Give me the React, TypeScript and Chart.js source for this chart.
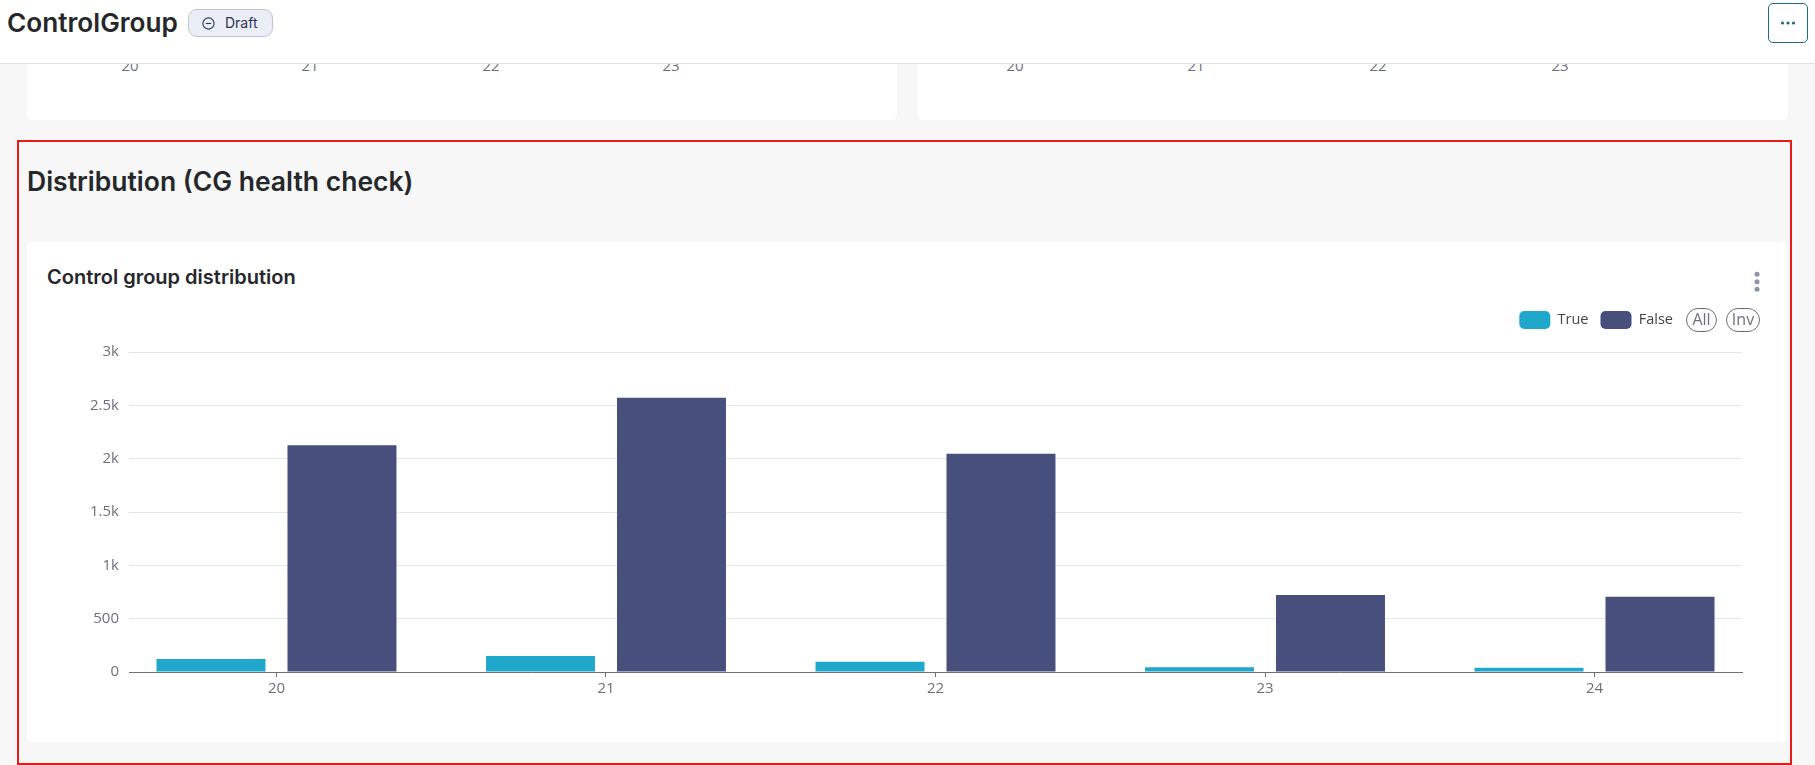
import React, { useEffect, useRef } from "react";
import { Chart, registerables } from "chart.js";

Chart.register(...registerables);

const categories = [20, 21, 22, 23, 24];
const trueValues = [122, 150, 95, 45, 40];
const falseValues = [2125, 2570, 2045, 722, 706];
const upperLeftTicks = ["20", "21", "22", "23"];
const upperRightTicks = ["20", "21", "22", "23"];
const upperLeftX = [130, 310, 491, 671];
const upperRightX = [1015, 1196, 1378, 1560];

const AXIS = "#6E7079";
const GRID = "#E0E6F4";
const BODY = '"Open Sans", sans-serif';
const HEAD = 'Inter, sans-serif';

const legendPlace = {
  id: "legendPlace",
  afterLayout(chart: any) {
    if (chart.legend) {
      chart.legend.right = 1673 - 27 + 12;
      chart.legend.top = 311 - 242 - 12;
    }
  },
};

function abs(x: number, y: number, w: number, h: number): React.CSSProperties {
  return { position: "absolute", left: x, top: y, width: w, height: h, boxSizing: "border-box" };
}

export default function App() {
  const ref = useRef<HTMLCanvasElement | null>(null);
  useEffect(() => {
    document.body.style.margin = "0";
    const chart = new Chart(ref.current as HTMLCanvasElement, {
      type: "bar",
      data: {
        datasets: [
          {
            label: "True",
            data: categories.map((c, i) => ({ x: c, y: trueValues[i] })),
            backgroundColor: "#1FA8CB",
            borderWidth: 0,
          },
          {
            label: "False",
            data: categories.map((c, i) => ({ x: c, y: falseValues[i] })),
            backgroundColor: "#474F7D",
            borderWidth: 0,
          },
        ],
      },
      options: {
        responsive: false,
        animation: false,
        devicePixelRatio: 1,
        categoryPercentage: 0.795,
        barPercentage: 0.832,
        layout: { padding: { left: 60, right: 46, top: 70, bottom: 30 } },
        plugins: {
          tooltip: { enabled: false },
          title: { display: false },
          legend: {
            display: true,
            position: "top",
            align: "end",
            labels: {
              boxWidth: 31,
              boxHeight: 18,
              padding: 12,
              useBorderRadius: true,
              borderRadius: 5,
              color: "#444444",
              font: { family: BODY, size: 14.5 },
            },
          },
        },
        scales: {
          x: {
            type: "linear",
            offset: false,
            min: 19.5524,
            max: 24.4476,
            grid: { display: true, drawOnChartArea: false, drawTicks: true, tickLength: 5, tickColor: AXIS, offset: false },
            border: { display: true, color: AXIS, width: 1 },
            ticks: {
              stepSize: 1,
              includeBounds: false,
              padding: 3,
              color: AXIS,
              font: { family: BODY, size: 15 },
              maxRotation: 0,
              callback: (v: any) => String(v),
            },
            afterFit: (s: any) => { s.height = 40; },
          },
          y: {
            type: "linear",
            min: 0,
            max: 3000,
            grid: { color: GRID, lineWidth: 1, drawTicks: false },
            border: { display: false },
            ticks: {
              stepSize: 500,
              padding: 10,
              color: AXIS,
              font: { family: BODY, size: 15 },
              callback: (v: any) => (Number(v) >= 1000 ? `${Number(v) / 1000}k` : String(v)),
            },
            afterFit: (s: any) => { s.width = 42; },
          },
        },
      } as any,
      plugins: [legendPlace],
    });
    return () => chart.destroy();
  }, []);

  const tick = (label: string, x: number, i: string | number) => (
    <div key={i} style={{ position: "absolute", left: x - 20, width: 40, top: 55, textAlign: "center", font: `15px ${BODY}`, color: AXIS, lineHeight: "20px" }}>
      {label}
    </div>
  );

  return (
    <div style={{ ...abs(0, 0, 1815, 765), background: "#F7F7F7", overflow: "hidden" }}>
      {/* upper cards */}
      <div style={{ ...abs(27, 40, 870, 80), background: "#fff", borderRadius: 6 }} />
      <div style={{ ...abs(917, 40, 871, 80), background: "#fff", borderRadius: 6 }} />
      {upperLeftTicks.map((t, i) => tick(t, upperLeftX[i], "l" + i))}
      {upperRightTicks.map((t, i) => tick(t, upperRightX[i], "r" + i))}

      {/* header */}
      <div style={{ ...abs(0, 0, 1815, 64), background: "#fff", borderBottom: "1px solid #DEDFE3" }} />
      <div style={{ position: "absolute", left: 7, top: 7, font: `600 26.2px ${HEAD}`, color: "#25272B", lineHeight: "32px", whiteSpace: "nowrap" }}>ControlGroup</div>
      <div style={{ ...abs(188, 9, 85, 28), background: "#ECEEF5", border: "1px solid #BFC3D9", borderRadius: 9 }} />
      <svg style={{ position: "absolute", left: 202, top: 17 }} width="13" height="13" viewBox="0 0 13 13">
        <circle cx="6.5" cy="6.5" r="5.6" fill="none" stroke="#2A3558" strokeWidth="1.1" />
        <line x1="3.8" y1="6.5" x2="9.2" y2="6.5" stroke="#2A3558" strokeWidth="1.1" />
      </svg>
      <div style={{ position: "absolute", left: 225, top: 14, font: `14px ${HEAD}`, color: "#2A3558", lineHeight: "18px" }}>Draft</div>
      <div style={{ ...abs(1768, 3, 40, 40), background: "#fff", border: "1px solid #1C6B84", borderRadius: 5 }} />
      <svg style={{ position: "absolute", left: 1780, top: 19 }} width="16" height="8" viewBox="0 0 16 8">
        <circle cx="2.5" cy="4" r="1.6" fill="#1C6B84" />
        <circle cx="8" cy="4" r="1.6" fill="#1C6B84" />
        <circle cx="13.5" cy="4" r="1.6" fill="#1C6B84" />
      </svg>

      {/* red frame */}
      <div style={{ ...abs(16.5, 139.5, 1775, 625), border: "2.5px solid #E81B1B" }} />
      <div style={{ position: "absolute", left: 27, top: 164, font: `600 26.5px ${HEAD}`, color: "#25272B", lineHeight: "34px", whiteSpace: "nowrap" }}>
        Distribution (CG health check)
      </div>

      {/* card */}
      <div style={{ ...abs(27, 242, 1761, 500), background: "#fff", borderRadius: 6 }} />
      <div style={{ position: "absolute", left: 47, top: 264, font: `600 20px ${HEAD}`, color: "#25272B", lineHeight: "26px", whiteSpace: "nowrap" }}>
        Control group distribution
      </div>
      <canvas ref={ref} width={1761} height={500} style={{ position: "absolute", left: 27, top: 242, width: 1761, height: 500 }} />
      <svg style={{ position: "absolute", left: 1752, top: 270 }} width="10" height="24" viewBox="0 0 10 24">
        <circle cx="5" cy="4.3" r="2.5" fill="#8A96A3" />
        <circle cx="5" cy="11.8" r="2.5" fill="#8A96A3" />
        <circle cx="5" cy="19.3" r="2.5" fill="#8A96A3" />
      </svg>
      <div style={{ ...abs(1686, 308, 31, 24), border: "1px solid #6E6E6E", borderRadius: 12, textAlign: "center", font: `16px ${BODY}`, color: "#6E7079", lineHeight: "21px" }}>All</div>
      <div style={{ ...abs(1726, 308, 34, 24), border: "1px solid #6E6E6E", borderRadius: 12, textAlign: "center", font: `16px ${BODY}`, color: "#6E7079", lineHeight: "21px" }}>Inv</div>
    </div>
  );
}
